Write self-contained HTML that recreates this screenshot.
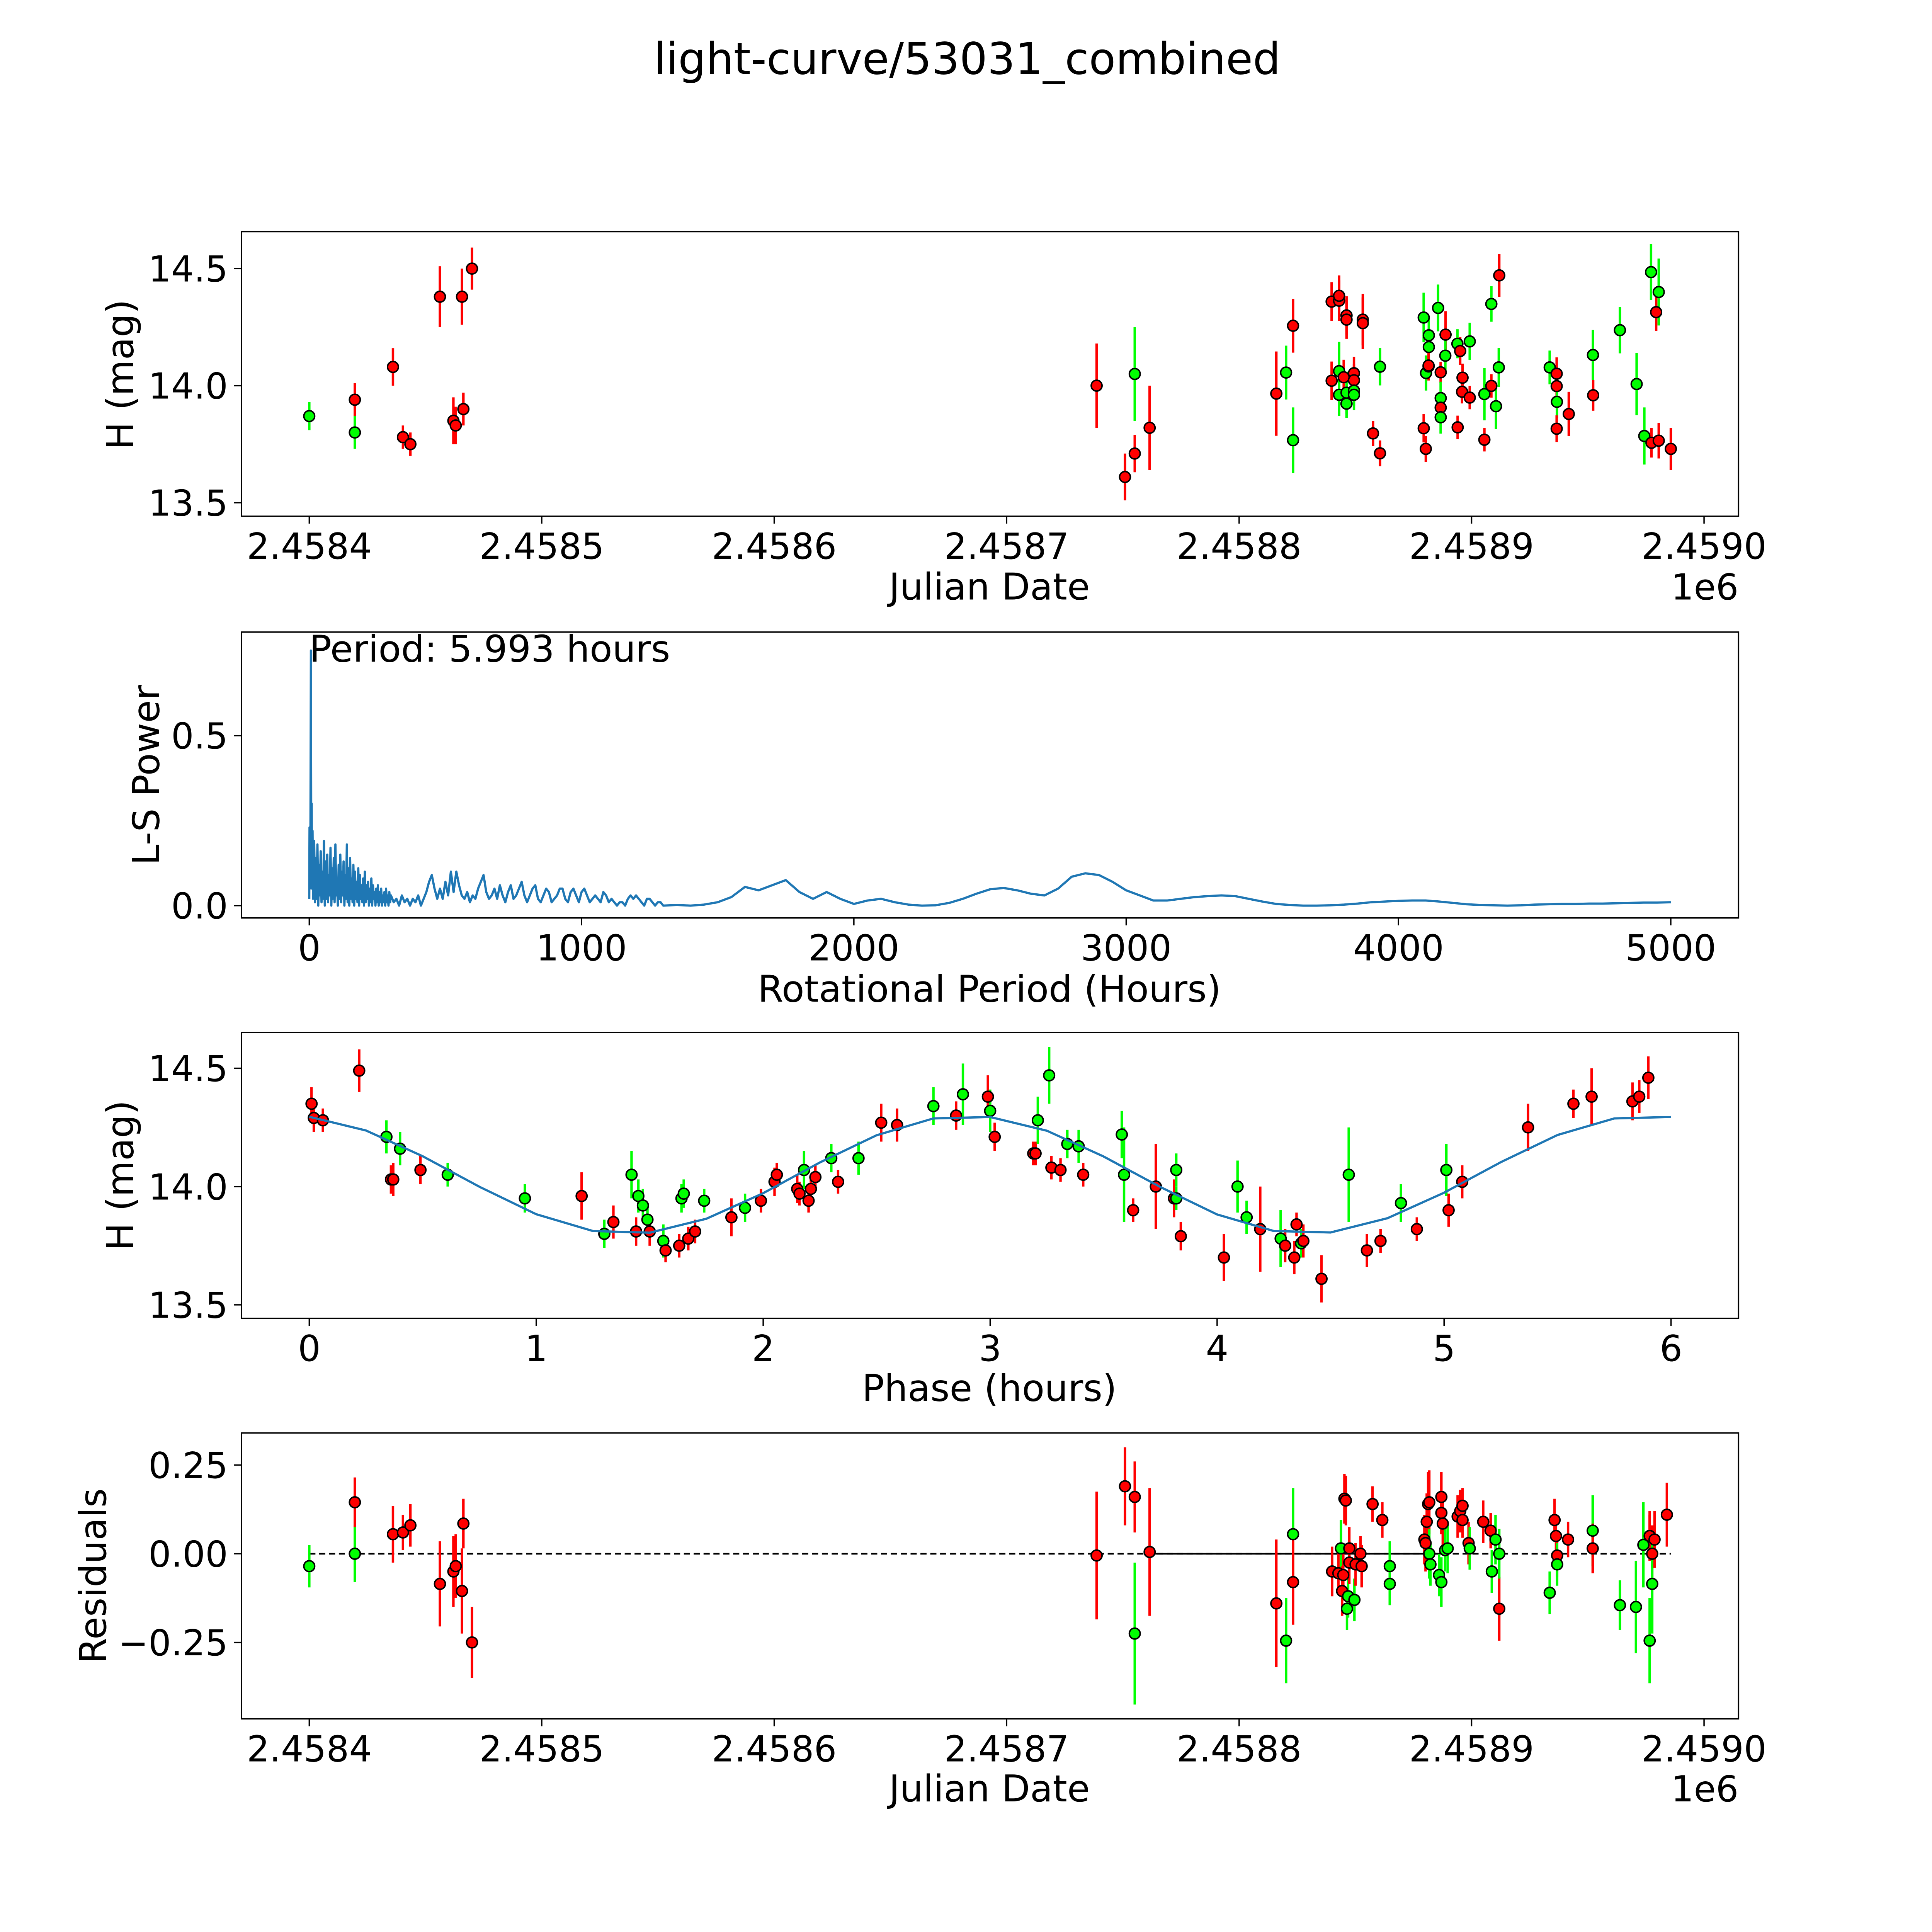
<!DOCTYPE html>
<html><head><meta charset="utf-8"><title>light-curve/53031_combined</title>
<style>html,body{margin:0;padding:0;background:#fff;overflow:hidden;width:100%;height:100%;}svg{display:block;width:100vw;height:100vh;}text{font-family:"DejaVu Sans","Liberation Sans",sans-serif;fill:#000;}</style>
</head><body>
<svg id="fig" xmlns="http://www.w3.org/2000/svg" viewBox="0 0 1568 1568" preserveAspectRatio="xMinYMin meet">
<rect width="1568" height="1568" fill="#fff"/>
<text x="785" y="60" font-size="35.5" text-anchor="middle">light-curve/53031_combined</text>
</svg>
<script>
// ---------- Panel 1 data: Julian Date vs H magnitude ----------
const lcJd = [2458400.0,2458419.6,2458419.6,2458436.0,2458440.3,2458443.5,2458456.2,2458462.0,2458463.0,2458465.7,2458466.3,2458470.0,
2458738.7,2458750.9,2458755.1,2458755.1,2458761.5,
2458816.0,2458820.2,2458823.2,2458823.2,2458839.8,2458843.0,2458843.0,2458846.2,2458846.2,2458853.2,2458853.2,2458839.8,2458843.0,2458845.0,2458849.4,2458849.4,2458843.0,2458846.2,2458849.4,2458849.4,2458846.2,2458860.6,2458857.6,2458860.6,
2458879.4,2458885.6,2458881.6,2458881.6,2458888.8,2458888.7,2458893.9,2458895.1,2458899.2,2458880.4,2458881.5,2458881.5,2458886.7,2458886.7,2458886.7,2458886.7,2458879.4,2458880.3,2458896.1,2458895.9,2458899.2,2458894.0,2458905.5,2458908.5,2458911.7,2458910.5,2458905.5,2458908.5,2458911.9,
2458933.6,2458936.6,2458936.6,2458936.7,2458936.6,2458941.8,2458952.2,2458952.3,2458963.8,2458971.0,2458977.2,2458980.5,2458979.4,2458974.3,2458977.4,2458980.5,2458985.7];
const lcMag = [13.87,13.80,13.94,14.08,13.78,13.75,14.38,13.85,13.83,14.38,13.90,14.50,
14.00,13.61,14.05,13.71,13.82,
13.966,14.056,14.256,13.767,14.359,14.363,14.384,14.300,14.282,14.282,14.267,14.021,14.062,14.036,14.053,14.023,13.961,13.970,13.979,13.961,13.923,14.081,13.796,13.711,
14.291,14.332,14.215,14.165,14.218,14.128,14.179,14.148,14.189,14.054,14.082,14.086,14.057,13.947,13.906,13.865,13.818,13.730,14.034,13.974,13.949,13.822,13.964,13.999,14.078,13.912,13.769,14.349,14.471,
14.078,14.051,13.998,13.931,13.816,13.879,14.131,13.959,14.237,14.007,14.485,14.400,14.314,13.785,13.756,13.765,13.730];
const lcErr = [0.06,0.07,0.07,0.08,0.05,0.05,0.13,0.10,0.08,0.12,0.07,0.09,
0.18,0.10,0.20,0.08,0.18,
0.18,0.115,0.115,0.14,0.083,0.087,0.087,0.082,0.082,0.11,0.11,0.082,0.125,0.075,0.07,0.07,0.09,0.09,0.065,0.065,0.06,0.08,0.054,0.055,
0.106,0.10,0.08,0.08,0.10,0.07,0.062,0.06,0.08,0.075,0.06,0.06,0.045,0.07,0.06,0.07,0.06,0.055,0.06,0.05,0.05,0.05,0.112,0.05,0.083,0.097,0.05,0.076,0.092,
0.072,0.07,0.07,0.07,0.057,0.095,0.107,0.066,0.099,0.133,0.12,0.143,0.08,0.122,0.063,0.076,0.09];
const lcBand = ['g','g','r','r','r','r','r','r','r','r','r','r',
'r','r','g','r','r',
'r','g','r','g','r','r','r','r','r','r','r','r','g','r','r','r','g','g','g','g','g','g','r','r',
'g','g','g','g','r','g','g','r','g','g','r','r','r','g','r','g','r','r','r','r','r','r','g','r','g','g','r','g','r',
'g','r','r','g','r','r','g','r','g','g','g','g','r','g','r','r','r'];

// ---------- Panel 2 data: periodogram ----------
const lsHeadPeriod = [0,1,2,3,4,5,6,7,8,9,10,12,14,16];
const lsHeadPower = [0.02,0.23,0.05,0.20,0.10,0.40,0.75,0.30,0.10,0.30,0.05,0.22,0.02,0.15];
const lsNoiseStart = 18, lsNoiseStep = 3;
const lsNoisePower = [.19,.01,.14,.02,.18,.0,.12,.03,.16,.01,.10,.02,.19,.0,.13,.02,.15,.01,.09,.03,.17,.0,.11,.02,.14,.01,.18,.03,.08,.0,.12,.02,.15,.01,.10,.03,.13,.0,.09,.02,.18,.01,.11,.0,.14,.02,.08,.01,.12,.0,.10,.02,.07,.01,.11,.0,.09,.02,.06,.01,.08,.0,.10,.01,.06,.02,.07,.0,.05,.01,.08,.0,.06,.02,.04,.0,.05,.01,.06,.0,.04,.01,.05,.0,.03,.01,.04,.0,.05,.01,.03,.0,.04,.01,.03];
const lsMidStart = 300, lsMidStep = 10;
const lsMidPower = [.03,.01,.02,.0,.03,.01,.02,.0,.02,.01,.03,.0,.02,.04,.07,.09,.05,.02,.05,.02,.07,.03,.10,.04,.10,.06,.03,.02,.04,.01,.03,.02,.05,.07,.09,.04,.02,.03,.05,.02,.06,.03,.01,.04,.06,.02,.03,.05,.07,.03,.01,.03,.05,.06,.02,.01,.03,.05,.04,.01,.02,.03,.05,.05,.02,.01,.04,.05,.03,.01,.04,.05,.03,.01,.02,.03,.02,.01,.04,.03,.01,.02,.01,.0,.01,.01,.0,.02,.03,.02,.03,.02,.01,.0,.02,.02,.01,.0,.01,.01,.0];
const lsTailStart = 1350, lsTailStep = 50;
const lsTailPower = [.002,.0,.003,.01,.025,.055,.045,.06,.075,.04,.02,.04,.02,.005,.015,.02,.01,.003,.0,.001,.008,.02,.035,.048,.052,.045,.035,.03,.05,.085,.095,.09,.07,.045,.03,.015,.015,.02,.025,.028,.03,.028,.02,.012,.005,.002,.0,.0,.001,.003,.006,.01,.012,.014,.015,.015,.012,.008,.004,.002,.001,.0,.001,.003,.004,.005,.005,.006,.006,.007,.008,.009,.009,.01];

// ---------- Panel 3 data: phase-folded ----------
const phPhase = [.01,.02,.06,.22,.34,.36,.37,.40,.49,.61,.95,1.20,1.30,1.34,1.42,1.45,1.44,1.47,1.49,1.50,1.56,1.57,1.63,1.64,1.65,1.67,1.70,1.74,1.86,1.92,1.99,2.05,2.06,2.15,2.16,2.18,2.20,2.21,2.23,2.30,2.33,2.42,2.52,2.59,2.75,2.85,2.88,2.99,3.00,3.02,3.19,3.20,3.21,3.26,3.27,3.31,3.34,3.39,3.41,3.58,3.59,3.63,3.73,3.81,3.82,3.82,3.84,4.03,4.09,4.13,4.19,4.28,4.30,4.34,4.35,4.37,4.38,4.46,4.58,4.66,4.72,4.81,4.88,5.01,5.02,5.08,5.37,5.57,5.65,5.83,5.86,5.90];
const phMag = [14.35,14.29,14.28,14.49,14.21,14.03,14.03,14.16,14.07,14.05,13.95,13.96,13.80,13.85,14.05,13.96,13.81,13.92,13.86,13.81,13.77,13.73,13.75,13.95,13.97,13.78,13.81,13.94,13.87,13.91,13.94,14.02,14.05,13.99,13.97,14.07,13.94,13.99,14.04,14.12,14.02,14.12,14.27,14.26,14.34,14.30,14.39,14.38,14.32,14.21,14.14,14.14,14.28,14.47,14.08,14.07,14.18,14.17,14.05,14.22,14.05,13.90,14.00,13.95,14.07,13.95,13.79,13.70,14.00,13.87,13.82,13.78,13.75,13.70,13.84,13.76,13.77,13.61,14.05,13.73,13.77,13.93,13.82,14.07,13.90,14.02,14.25,14.35,14.38,14.36,14.38,14.46];
const phErr = [.07,.06,.05,.09,.07,.06,.07,.07,.06,.05,.06,.1,.06,.07,.1,.07,.06,.07,.06,.06,.07,.05,.05,.06,.06,.05,.05,.05,.08,.06,.05,.06,.05,.06,.05,.08,.05,.06,.05,.06,.05,.07,.08,.07,.08,.06,.13,.09,.09,.06,.05,.05,.1,.12,.05,.05,.06,.07,.05,.1,.2,.05,.18,.08,.07,.05,.06,.1,.11,.07,.18,.12,.07,.07,.05,.06,.07,.1,.2,.07,.05,.08,.05,.11,.07,.07,.1,.06,.12,.08,.07,.09];
const phBand = ['r','r','r','r','g','r','r','g','r','g','g','r','g','r','g','g','r','g','g','r','g','r','r','g','g','r','r','g','r','g','r','r','r','r','r','g','r','r','r','g','r','g','r','r','g','r','g','r','g','r','r','r','g','g','r','r','g','g','r','g','g','r','r','r','g','g','r','r','g','g','r','g','r','r','r','g','r','r','g','r','r','g','r','g','r','r','r','r','r','r','r','r'];
const modelPhase = [0,0.25,0.5,0.75,1,1.25,1.5,1.75,2,2.25,2.5,2.75,3,3.25,3.5,3.75,4,4.25,4.5,4.75,5,5.25,5.5,5.75,6];
const modelMag = [14.295,14.237,14.128,13.999,13.883,13.812,13.805,13.864,13.972,14.102,14.217,14.288,14.294,14.236,14.127,13.998,13.882,13.812,13.806,13.866,13.974,14.103,14.218,14.288,14.294];

// ---------- Panel 4 data: residuals ----------
const residJd = [2458400.0,2458419.6,2458419.6,2458436.0,2458440.3,2458443.5,2458456.2,2458462.0,2458463.0,2458465.7,2458466.3,2458470.0,
2458738.7,2458750.9,2458755.1,2458755.1,2458761.5,
2458816.0,2458820.2,2458823.2,2458823.2,
2458840.0,2458842.7,2458843.8,2458844.3,2458844.8,2458845.3,2458845.9,2458846.4,2458846.9,2458847.4,2458847.4,2458849.6,2458850.1,2458852.2,2458852.7,2458857.4,2458861.6,2458864.8,2458864.8,
2458879.7,2458880.2,2458880.7,2458881.3,2458881.8,2458881.8,2458882.3,2458886.0,2458887.0,2458887.0,2458887.0,2458887.6,2458888.6,2458889.7,2458894.0,2458895.1,2458896.1,2458896.1,2458898.7,2458899.2,2458905.0,2458908.2,2458908.7,2458910.3,2458911.9,2458911.9,
2458933.6,2458935.7,2458936.3,2458936.8,2458936.8,2458941.5,2458952.1,2458952.1,2458963.8,2458970.7,2458973.9,2458976.6,2458976.6,2458976.6,2458977.7,2458977.7,2458978.7,2458984.0];
const residVal = [-0.035,0.0,0.145,0.055,0.06,0.08,-0.085,-0.05,-0.035,-0.105,0.085,-0.25,
-0.005,0.19,-0.225,0.16,0.005,
-0.14,-0.245,0.055,-0.08,
-0.05,-0.055,0.015,-0.105,-0.06,0.155,0.15,-0.155,-0.12,0.015,-0.025,-0.13,-0.03,0.0,-0.035,0.14,0.095,-0.085,
-0.035,0.04,0.03,0.09,0.14,0.145,0.0,-0.03,-0.06,-0.08,0.16,0.115,0.085,0.01,0.015,0.105,0.12,0.095,0.135,0.03,0.015,0.09,0.065,-0.05,0.04,-0.155,0.0,
-0.11,0.095,0.05,-0.005,-0.03,0.04,0.065,0.015,-0.145,-0.15,0.025,0.05,-0.245,0.05,0.0,-0.085,0.04,0.11];
const residErr = [0.06,0.08,0.07,0.08,0.05,0.06,0.12,0.1,0.09,0.12,0.07,0.1,
0.18,0.11,0.2,0.1,0.18,
0.18,0.12,0.13,0.12,
0.07,0.06,0.08,0.07,0.06,0.07,0.07,0.06,0.06,0.06,0.06,0.06,0.06,0.05,0.06,0.05,0.05,0.06,
0.07,0.07,0.08,0.08,0.09,0.09,0.07,0.06,0.06,0.07,0.07,0.06,0.06,0.06,0.07,0.06,0.06,0.05,0.05,0.06,0.06,0.06,0.05,0.06,0.07,0.09,0.07,
0.06,0.06,0.06,0.06,0.06,0.05,0.1,0.07,0.07,0.13,0.12,0.06,0.12,0.07,0.08,0.14,0.08,0.09];
const residBand = ['g','g','r','r','r','r','r','r','r','r','r','r',
'r','r','g','r','r',
'r','g','g','r',
'r','r','g','r','r','r','r','g','g','r','r','g','r','r','r','r','r','g',
'g','r','r','r','r','r','g','g','g','g','r','r','r','g','g','r','r','r','r','r','g','r','r','g','g','r','g',
'g','r','r','r','g','r','g','r','g','g','g','r','g','r','r','g','r','r'];

const SVGNS = 'http://www.w3.org/2000/svg';
const fig = document.getElementById('fig');
function mk(tag, attrs, parent){
  const e = document.createElementNS(SVGNS, tag);
  for (const k in attrs) e.setAttribute(k, attrs[k]);
  (parent||fig).appendChild(e);
  return e;
}
function lin(d0,d1,r0,r1){ return v => r0 + (v-d0)*(r1-r0)/(d1-d0); }

const AX_L = 196, AX_R = 1411;
const TICK_FS = 29, LABEL_FS = 30;
const panels = [{t:188,b:419},{t:513,b:745},{t:838,b:1070},{t:1163,b:1395}];

function frame(p, name){
  const r = mk('rect',{x:AX_L,y:p.t,width:AX_R-AX_L,height:p.b-p.t,fill:'none',stroke:'#000','stroke-width':1.1});
  
  
}
function xTicks(p, vals, labels, sx, name){
  vals.forEach((v,i)=>{
    const x = sx(v);
    const l = mk('line',{x1:x,x2:x,y1:p.b,y2:p.b+6,stroke:'#000','stroke-width':1.1});
    
    
    const t = mk('text',{x:x,y:p.b+34.5,'font-size':TICK_FS,'text-anchor':'middle'});
    t.textContent = labels[i];
    
    
  });
}
function yTicks(p, vals, labels, sy, name){
  vals.forEach((v,i)=>{
    const y = sy(v);
    const l = mk('line',{x1:AX_L-6,x2:AX_L,y1:y,y2:y,stroke:'#000','stroke-width':1.1});
    
    
    const t = mk('text',{x:AX_L-11,y:y+10.5,'font-size':TICK_FS,'text-anchor':'end'});
    t.textContent = labels[i];
    
    
  });
}
function label(txt, x, y, rot, name){
  const t = mk('text',{x:x,y:y,'font-size':LABEL_FS,'text-anchor':'middle'});
  if (rot) t.setAttribute('transform','rotate(-90 '+x+' '+y+')');
  t.textContent = txt;
  
  
}
const COL = {r:'#ff0000', g:'#00ff00'};
function points(xs, ys, es, bs, sx, sy, name){
  const g = mk('g',{});
  
  
  xs.forEach((v,i)=>{
    const x = sx(v);
    const e = mk('line',{x1:x,x2:x,y1:sy(ys[i]-es[i]),y2:sy(ys[i]+es[i]),stroke:COL[bs[i]],'stroke-width':2}, g);
    
    
  });
  xs.forEach((v,i)=>{
    const c = mk('circle',{cx:sx(v),cy:sy(ys[i]),r:4.4,fill:COL[bs[i]],stroke:'#000','stroke-width':1.2}, g);
    
    
  });
}
function offsetText(y, name){
  const t = mk('text',{x:1411,y:y,'font-size':TICK_FS,'text-anchor':'end'});
  t.textContent = '1e6';
  
  
}

// ---- Panel 1 ----
const jdTicks = [2458400,2458500,2458600,2458700,2458800,2458900,2459000];
const jdTickLabels = ['2.4584','2.4585','2.4586','2.4587','2.4588','2.4589','2.4590'];
const p1 = panels[0];
const sx1 = lin(2458400,2459000,251,1383);
const sy1 = lin(14,14.5,313,218);
frame(p1,'light-curve-axes');
points(lcJd, lcMag, lcErr, lcBand, sx1, sy1, 'light-curve');
xTicks(p1, jdTicks, jdTickLabels, sx1, 'light-curve-x');
yTicks(p1, [13.5,14.0,14.5], ['13.5','14.0','14.5'], sy1, 'light-curve-y');
label('Julian Date', 803, 486.5, false, 'light-curve-x-title');
label('H (mag)', 108, 304, true, 'light-curve-y-title');
offsetText(486.5, 'light-curve-x-offset');

// ---- Panel 2 ----
const p2 = panels[1];
const sx2 = lin(0,1000,251,472);
const sy2 = lin(0,0.5,735,597);
frame(p2,'periodogram-axes');
(function(){
  const pts = [];
  lsHeadPeriod.forEach((v,i)=>pts.push([v, lsHeadPower[i]]));
  lsNoisePower.forEach((v,i)=>pts.push([lsNoiseStart+i*lsNoiseStep, v]));
  lsMidPower.forEach((v,i)=>pts.push([lsMidStart+i*lsMidStep, v]));
  lsTailPower.forEach((v,i)=>pts.push([lsTailStart+i*lsTailStep, v]));
  const d = pts.map((q,i)=>(i?'L':'M')+sx2(q[0]).toFixed(2)+' '+sy2(q[1]).toFixed(2)).join(' ');
  const path = mk('path',{d:d,fill:'none',stroke:'#1f77b4','stroke-width':1.8,'stroke-linejoin':'round'});
  
  
})();
xTicks(p2,[0,1000,2000,3000,4000,5000],['0','1000','2000','3000','4000','5000'],sx2,'periodogram-x');
yTicks(p2,[0,0.5],['0.0','0.5'],sy2,'periodogram-y');
label('Rotational Period (Hours)', 803, 813, false, 'periodogram-x-title');
label('L-S Power', 129, 629, true, 'periodogram-y-title');
(function(){const t=mk('text',{x:251,y:537,'font-size':LABEL_FS});t.textContent='Period: 5.993 hours';

})();

// ---- Panel 3 ----
const p3 = panels[2];
const sx3 = lin(0,1,251,435.2);
const sy3 = lin(14,14.5,963,867);
frame(p3,'phase-axes');
points(phPhase, phMag, phErr, phBand, sx3, sy3, 'phase-folded');
(function(){
  const d = modelPhase.map((v,i)=>(i?'L':'M')+sx3(v).toFixed(2)+' '+sy3(modelMag[i]).toFixed(2)).join(' ');
  const path = mk('path',{d:d,fill:'none',stroke:'#1f77b4','stroke-width':1.8,'stroke-linejoin':'round'});
  
  
})();
xTicks(p3,[0,1,2,3,4,5,6],['0','1','2','3','4','5','6'],sx3,'phase-x');
yTicks(p3,[13.5,14.0,14.5],['13.5','14.0','14.5'],sy3,'phase-y');
label('Phase (hours)', 803, 1137, false, 'phase-x-title');
label('H (mag)', 108, 954, true, 'phase-y-title');

// ---- Panel 4 ----
const p4 = panels[3];
const sy4 = lin(0,0.25,1261,1189);
frame(p4,'residuals-axes');
(function(){
  const z = mk('line',{x1:sx1(2458400),x2:sx1(2458985.7),y1:sy4(0),y2:sy4(0),stroke:'#000','stroke-width':1.4,'stroke-dasharray':'5,3'});
  
  
  const s = mk('line',{x1:sx1(2458761.5),x2:sx1(2458890),y1:sy4(0),y2:sy4(0),stroke:'#000','stroke-width':1.4});
  
  
})();
points(residJd, residVal, residErr, residBand, sx1, sy4, 'residuals');
xTicks(p4, jdTicks, jdTickLabels, sx1, 'residuals-x');
yTicks(p4,[-0.25,0,0.25],['\u22120.25','0.00','0.25'],sy4,'residuals-y');
label('Julian Date', 803, 1462, false, 'residuals-x-title');
label('Residuals', 86, 1279, true, 'residuals-y-title');
offsetText(1462, 'residuals-x-offset');
</script>
</body></html>
